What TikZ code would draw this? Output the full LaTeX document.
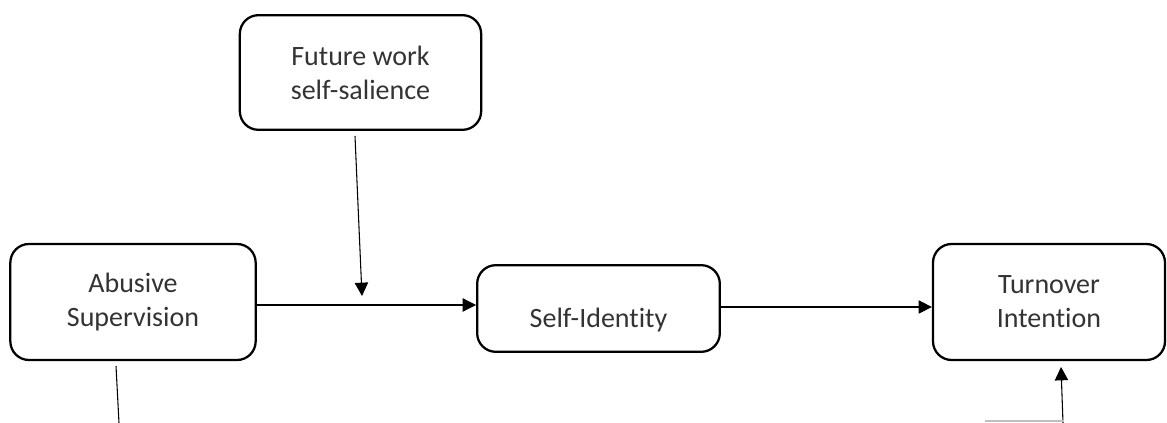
\documentclass[tikz,border=0pt]{standalone}
\usepackage{fontspec}
\setmainfont{Carlito}[Ligatures=NoCommon]
\usetikzlibrary{arrows.meta}

\tikzset{
    varbox/.style={draw, line width=1.7pt, rounded corners=14pt, align=center,
        font=\fontsize{21}{25.5}\selectfont, text=black!80},
    link/.style={line width=0.8pt, -{Triangle[width=10pt, length=10pt]}},
    plain/.style={line width=0.8pt}
}

\begin{document}
\begin{tikzpicture}[x=0.75pt, y=-0.75pt]
    \useasboundingbox (0,0) rectangle (1167,423);

    \node[varbox, minimum width=181pt, minimum height=86pt] (fut) at (360.5,72.5)
        {Future work\\self-salience};
    \node[varbox, minimum width=184pt, minimum height=87pt] (abu) at (133,302)
        {Abusive\\Supervision};
    \node[varbox, minimum width=182pt, minimum height=65pt] (sid) at (598.5,308.5)
        {\raisebox{-14pt}[0pt][0pt]{Self-Identity}};
    \node[varbox, minimum width=174pt, minimum height=87pt] (tov) at (1049,302)
        {Turnover\\Intention};

    \coordinate (futout) at (355,136);
    \coordinate (futin) at (362,296);
    \coordinate (abuout) at (116,366);
    \coordinate (abuend) at (119,423);
    \coordinate (tovstart) at (1063,423);
    \coordinate (tovin) at (1061,367);
    \coordinate (edgeleft) at (985,421);
    \coordinate (edgeright) at (1064,421);

    \draw[link] (futout) -- (futin);
    \draw[link] (abu.east |- 0,305) -- (sid.west |- 0,305);
    \draw[link] (sid.east |- 0,307) -- (tov.west |- 0,307);
    \draw[plain] (abuout) -- (abuend);
    \draw[link] (tovstart) -- (tovin);
    \draw[line width=1pt, black!25] (edgeleft) -- (edgeright);
\end{tikzpicture}
\end{document}
